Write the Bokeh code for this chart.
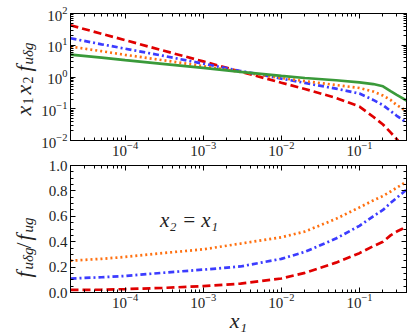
import math
from bokeh.plotting import figure
from bokeh.layouts import column, row
from bokeh.models import (FixedTicker, LogAxis, LinearAxis, Range1d, Label,
                          CustomJSTickFormatter, NumeralTickFormatter, LogTickFormatter)
from bokeh.core.properties import value
from bokeh.embed import file_html
from bokeh.resources import INLINE

# ---- data ----
x1 = [2e-5, 5e-5, 1e-4, 3e-4, 1e-3, 3e-3, 1e-2, 2e-2, 5e-2, 0.1, 0.15, 0.2, 0.25, 0.3, 0.35, 0.4]

red_top = [42.7, 22.9, 14.5, 6.9, 3.1, 1.48, 0.66, 0.42, 0.22, 0.117, 0.056, 0.032, 0.018, 0.011, 0.007, 0.004]
blue_top = [16.6, 10.7, 7.8, 4.7, 2.63, 1.55, 0.89, 0.65, 0.43, 0.30, 0.19, 0.13, 0.085, 0.06, 0.047, 0.035]
orange_top = [9.1, 6.5, 5.0, 3.4, 2.2, 1.45, 0.93, 0.74, 0.56, 0.45, 0.35, 0.26, 0.19, 0.13, 0.105, 0.081]
green_top = [5.1, 4.1, 3.4, 2.6, 1.93, 1.45, 1.08, 0.93, 0.79, 0.68, 0.60, 0.51, 0.36, 0.275, 0.22, 0.18]

orange_bot = [0.25, 0.265, 0.28, 0.31, 0.34, 0.385, 0.435, 0.48, 0.58, 0.67, 0.725, 0.76, 0.795, 0.825, 0.85, 0.875]
blue_bot = [0.11, 0.12, 0.13, 0.155, 0.18, 0.205, 0.265, 0.32, 0.425, 0.525, 0.6, 0.65, 0.705, 0.745, 0.78, 0.81]
red_bot = [0.02, 0.022, 0.027, 0.036, 0.05, 0.07, 0.11, 0.155, 0.235, 0.31, 0.365, 0.4, 0.45, 0.48, 0.5, 0.525]

x_range = (2e-5, 0.4)
top_y_range = (1e-2, 1e2)
bot_y_range = (0.0, 1.0)
bot_y_major = [0.0, 0.2, 0.4, 0.6, 0.8, 1.0]
bot_y_minor = [i * 0.05 for i in range(21)]

# y-axis title pieces: (text, size, italic, is_subscript, start position along the axis in px)
top_title = [("x", 22, True, False, 115), ("1", 14, False, True, 104),
             ("x", 22, True, False, 94), ("2", 14, False, True, 83),
             ("f", 22, True, False, 71), ("uδg", 15, True, True, 64)]
bot_title = [("f", 22, True, False, 277), ("uδg", 15, True, True, 269),
             ("/", 22, False, False, 248), ("f", 22, True, False, 240),
             ("ug", 15, True, True, 232)]

RED, BLUE, ORANGE, GREEN = "#e00000", "#3c3cff", "#ff7010", "#3a9a3a"
TICKFONT = "Liberation Serif"
MATHFONT = "Liberation Serif"
TXT = "#222222"

def log_ticks(lo, hi):
    major = [10.0 ** e for e in range(lo, hi + 1)]
    minor = [k * 10.0 ** e for e in range(lo, hi) for k in range(2, 10)]
    return FixedTicker(ticks=major, minor_ticks=minor)

def style_axis(ax, labels=True):
    ax.major_tick_in = 5
    ax.major_tick_out = 0
    ax.minor_tick_in = 3
    ax.minor_tick_out = 0
    ax.axis_line_color = "black"
    ax.major_tick_line_color = "black"
    ax.minor_tick_line_color = "black"
    ax.major_label_text_font = TICKFONT
    ax.major_label_text_font_size = "15px"
    ax.major_label_text_color = TXT
    ax.major_label_standoff = 3
    if not labels:
        ax.formatter = CustomJSTickFormatter(code="return ''")
        ax.major_label_standoff = 0

TOTAL_W, TOTAL_H = 412, 335
LABW = 38
W = TOTAL_W - LABW
LB = 63 - LABW
FW = 343
RB = W - LB - FW

# ---- label strip on the left (pixel coordinates, y downwards) ----
lf = figure(width=LABW, height=TOTAL_H, x_range=Range1d(0, LABW), y_range=Range1d(TOTAL_H, 0),
            output_backend="svg", toolbar_location=None,
            x_axis_location=None, y_axis_location=None, min_border=0)
lf.grid.visible = False
lf.outline_line_color = None
for pieces in (top_title, bot_title):
    for t, sz, it, sub, pos in pieces:
        lf.text(x=[27 if sub else 23], y=[pos], text=[t], angle=math.pi / 2,
                text_align="left", text_baseline="alphabetic",
                text_font=value(MATHFONT), text_font_style="italic" if it else "normal",
                text_font_size=f"{sz}px", text_color=TXT)

# ---- top panel ----
p1 = figure(width=W, height=158, x_axis_type="log", y_axis_type="log",
            x_range=Range1d(*x_range), y_range=Range1d(*top_y_range),
            output_backend="svg", toolbar_location=None,
            min_border_left=LB, min_border_right=RB,
            min_border_top=13, min_border_bottom=15)
p1.grid.visible = False
p1.outline_line_color = "black"
p1.xaxis.ticker = log_ticks(-5, 0)
p1.yaxis.ticker = log_ticks(-2, 2)
style_axis(p1.xaxis[0]); style_axis(p1.yaxis[0])
p1.xaxis.major_label_standoff = 1
p1.xaxis.formatter = LogTickFormatter()
p1.yaxis.formatter = LogTickFormatter()
ax_t = LogAxis(ticker=log_ticks(-5, 0)); style_axis(ax_t, False); p1.add_layout(ax_t, "above")
ax_r = LogAxis(ticker=log_ticks(-2, 2)); style_axis(ax_r, False); p1.add_layout(ax_r, "right")

p1.line(x1, red_top, line_color=RED, line_width=2.7, line_dash="8 4")
p1.line(x1, blue_top, line_color=BLUE, line_width=2.7, line_dash="6 3 2 3")
p1.line(x1, orange_top, line_color=ORANGE, line_width=2.7, line_dash="2 3")
p1.line(x1, green_top, line_color=GREEN, line_width=2.7)

# ---- bottom panel ----
p2 = figure(width=W, height=TOTAL_H - 158, x_axis_type="log",
            x_range=Range1d(*x_range), y_range=Range1d(*bot_y_range),
            output_backend="svg", toolbar_location=None,
            min_border_left=LB, min_border_right=RB,
            min_border_top=7, min_border_bottom=40)
p2.grid.visible = False
p2.outline_line_color = "black"
p2.xaxis.ticker = log_ticks(-5, 0)
p2.yaxis.ticker = FixedTicker(ticks=bot_y_major, minor_ticks=bot_y_minor)
style_axis(p2.xaxis[0]); style_axis(p2.yaxis[0])
p2.xaxis.major_label_standoff = 1
p2.xaxis.formatter = LogTickFormatter()
p2.yaxis.formatter = NumeralTickFormatter(format="0.0")
p2.xaxis.axis_label = "x₁"
p2.xaxis.axis_label_text_font = MATHFONT
p2.xaxis.axis_label_text_font_style = "italic"
p2.xaxis.axis_label_text_font_size = "22px"
p2.xaxis.axis_label_text_color = TXT
p2.xaxis.axis_label_standoff = -3
ax_t2 = LogAxis(ticker=log_ticks(-5, 0)); style_axis(ax_t2, False); p2.add_layout(ax_t2, "above")
ax_r2 = LinearAxis(ticker=FixedTicker(ticks=bot_y_major, minor_ticks=bot_y_minor)); style_axis(ax_r2, False); p2.add_layout(ax_r2, "right")

p2.line(x1, orange_bot, line_color=ORANGE, line_width=2.7, line_dash="2 3")
p2.line(x1, blue_bot, line_color=BLUE, line_width=2.7, line_dash="6 3 2 3")
p2.line(x1, red_bot, line_color=RED, line_width=2.7, line_dash="8 4")

p2.add_layout(Label(x=2.8e-4, y=0.57, text="x₂ = x₁", text_align="left", text_baseline="middle",
                    text_font=MATHFONT, text_font_style="italic", text_font_size="21px",
                    text_color=TXT))

layout = row(lf, column(p1, p2, spacing=0), spacing=0)
open("out.html", "w").write(file_html(layout, INLINE))
